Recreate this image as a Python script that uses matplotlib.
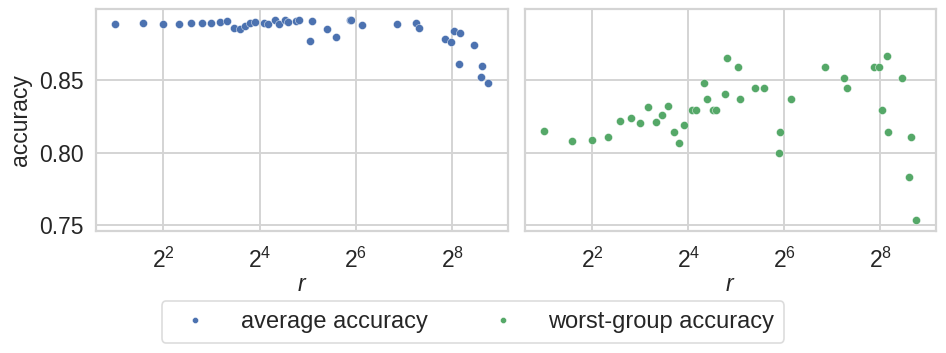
import matplotlib
matplotlib.use("Agg")
import matplotlib.pyplot as plt
from matplotlib.ticker import LogFormatterSciNotation, FixedLocator, NullLocator, FormatStrFormatter

# ---- data ----
r_values = [2, 3, 4, 5, 6, 7, 8, 9, 10, 11, 12, 13, 14, 15, 17, 18, 20, 21, 23, 24,
            27, 28, 33, 34, 42, 48, 59, 60, 70, 115, 151, 159, 232, 251, 261, 282,
            286, 348, 388, 395, 429]
average_accuracy = [0.8887, 0.8898, 0.8889, 0.8889, 0.8898, 0.8894, 0.8894, 0.8901,
                    0.8908, 0.8862, 0.8857, 0.8878, 0.8898, 0.8901, 0.8894, 0.8889,
                    0.8917, 0.8889, 0.8917, 0.8903, 0.8910, 0.8920, 0.8770, 0.8912,
                    0.8855, 0.8797, 0.8917, 0.8919, 0.8880, 0.8889, 0.8898, 0.8862,
                    0.8786, 0.8765, 0.8843, 0.8611, 0.8825, 0.8742, 0.8523, 0.8599,
                    0.8481]
worst_group_accuracy = [0.8149, 0.8078, 0.8085, 0.8106, 0.8216, 0.8237, 0.8207, 0.8313,
                        0.8210, 0.8262, 0.8320, 0.8145, 0.8069, 0.8189, 0.8295, 0.8295,
                        0.8484, 0.8371, 0.8295, 0.8295, 0.8407, 0.8654, 0.8594, 0.8371,
                        0.8445, 0.8445, 0.7995, 0.8145, 0.8371, 0.8594, 0.8518, 0.8445,
                        0.8594, 0.8594, 0.8295, 0.8670, 0.8145, 0.8518, 0.7831, 0.8108,
                        0.7532]
x_ticks = [4, 16, 64, 256]
y_ticks = [0.75, 0.80, 0.85]
labels = ["average accuracy", "worst-group accuracy"]
colors = ["#4C72B0", "#55A868"]

# ---- style ----
plt.rcParams["font.family"] = ["Liberation Sans", "DejaVu Sans"]
plt.rcParams["mathtext.fontset"] = "custom"
plt.rcParams["mathtext.rm"] = "Liberation Sans"
plt.rcParams["mathtext.it"] = "Liberation Sans:italic"
plt.rcParams["mathtext.bf"] = "Liberation Sans:bold"
plt.rcParams["text.color"] = "#262626"
plt.rcParams["axes.labelcolor"] = "#262626"
plt.rcParams["xtick.color"] = "#262626"
plt.rcParams["ytick.color"] = "#262626"

FS = 16.5
fig = plt.figure(figsize=(9.46, 3.53), dpi=100)
W, H = 946, 353
def rect(x0, y0, x1, y1):
    return [x0 / W, 1 - y1 / H, (x1 - x0) / W, (y1 - y0) / H]

ax1 = fig.add_axes(rect(96, 9, 508, 231))
ax2 = fig.add_axes(rect(525, 9, 936, 231), sharey=ax1)

series = [average_accuracy, worst_group_accuracy]
handles = []
for ax, vals, col, lab in zip([ax1, ax2], series, colors, labels):
    h, = ax.plot(r_values, vals, linestyle="none", marker="o", markersize=5.8,
                 color=col, markeredgecolor="white", markeredgewidth=0.3,
                 label=lab, zorder=3)
    handles.append(h)
    ax.set_xscale("log", base=2)
    ax.set_xlim(2 ** 0.603, 2 ** 9.156)
    ax.xaxis.set_major_locator(FixedLocator(x_ticks))
    ax.xaxis.set_major_formatter(LogFormatterSciNotation(base=2))
    ax.xaxis.set_minor_locator(NullLocator())
    ax.set_facecolor("white")
    ax.grid(True, color="#d4d4d4", linewidth=1.4, zorder=0)
    ax.set_axisbelow(True)
    for s in ax.spines.values():
        s.set_color("#d4d4d4")
        s.set_linewidth(1.6)
    ax.tick_params(axis="both", length=0, labelsize=FS)
    ax.tick_params(axis="x", pad=12)
    ax.tick_params(axis="y", pad=9)
    ax.set_xlabel("$r$", fontsize=FS, labelpad=0)

ax1.set_ylim(0.7459, 0.8993)
ax1.set_yticks(y_ticks)
ax1.yaxis.set_major_formatter(FormatStrFormatter("%.2f"))
ax1.set_ylabel("accuracy", fontsize=FS, labelpad=5)
ax2.tick_params(axis="y", labelleft=False)

leg = fig.legend(handles=handles, labels=labels, loc="lower center", ncol=2,
                 bbox_to_anchor=(0.5, 10 / H), borderaxespad=0, fontsize=17,
                 frameon=True, markerscale=0.75, handletextpad=0.92,
                 columnspacing=2.2, borderpad=0.42, handlelength=2.0)
leg.get_frame().set_edgecolor("#d4d4d4")
leg.get_frame().set_linewidth(1.2)

fig.savefig("out.png", dpi=100)
